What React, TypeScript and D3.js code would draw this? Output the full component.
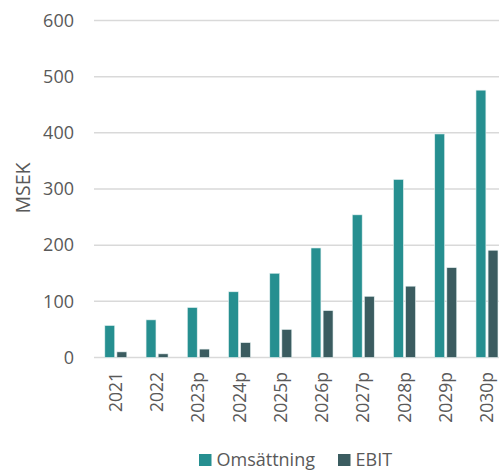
import { useEffect, useRef } from 'react';
import * as d3 from 'd3';

const years = ['2021', '2022', '2023p', '2024p', '2025p', '2026p', '2027p', '2028p', '2029p', '2030p'];
const omsattning = [57, 67, 89, 117, 150, 195, 254, 317, 398, 476];
const ebit = [10, 6.5, 15, 26.5, 50, 83.5, 109, 127, 160, 191];
const seriesNames = ['Omsättning', 'EBIT'];
const yTicks = [0, 100, 200, 300, 400, 500, 600];

const colors = ['#268f90', '#3b5c60'];
const textColor = '#595959';
const font = "'Open Sans', 'DejaVu Sans', sans-serif";

export default function App() {
  const svgRef = useRef<SVGSVGElement>(null);
  const width = 499;
  const height = 470;

  useEffect(() => {
    if (!svgRef.current) return;
    const svg = d3.select(svgRef.current);
    svg.selectAll('*').remove();

    // plot runs past the right edge, like the original
    const x = d3.scaleBand<string>().domain(years).range([95.2, 507.6]).padding(0);
    const y = d3.scaleLinear().domain([0, 600]).range([357.5, 20.5]);
    const inner = d3.scaleBand<string>().domain(seriesNames).range([-11, 11]).paddingInner(0.18);

    // gridlines
    svg.append('g')
      .selectAll('line')
      .data(yTicks)
      .join('line')
      .attr('x1', 94)
      .attr('x2', width)
      .attr('y1', (d) => y(d))
      .attr('y2', (d) => y(d))
      .attr('stroke', '#d9d9d9')
      .attr('stroke-width', 1.5);

    // y tick labels
    svg.append('g')
      .selectAll('text')
      .data(yTicks)
      .join('text')
      .attr('x', 74)
      .attr('y', (d) => y(d))
      .attr('dy', '0.35em')
      .attr('text-anchor', 'end')
      .attr('font-size', 18)
      .attr('font-family', font)
      .attr('fill', textColor)
      .text((d) => d);

    // axis title
    svg.append('text')
      .attr('transform', 'translate(23,188) rotate(-90)')
      .attr('dy', '0.35em')
      .attr('text-anchor', 'middle')
      .attr('font-size', 19.5)
      .attr('font-family', font)
      .attr('fill', textColor)
      .text('MSEK');

    // bars
    const series = [omsattning, ebit];
    series.forEach((vals, si) => {
      svg.append('g')
        .selectAll('rect')
        .data(vals)
        .join('rect')
        .attr('x', (_, i) => (x(years[i]) ?? 0) + x.bandwidth() / 2 + (inner(seriesNames[si]) ?? 0))
        .attr('y', (d) => y(d))
        .attr('width', inner.bandwidth())
        .attr('height', (d) => y(0) - y(d))
        .attr('fill', colors[si])
        .attr('stroke', '#e6f2f2')
        .attr('stroke-width', 0.6);
    });

    // x labels
    svg.append('g')
      .selectAll('text')
      .data(years)
      .join('text')
      .attr('transform', (d) => `translate(${(x(d) ?? 0) + x.bandwidth() / 2},372) rotate(-90)`)
      .attr('dy', '0.35em')
      .attr('text-anchor', 'end')
      .attr('font-size', 17.5)
      .attr('font-family', font)
      .attr('fill', textColor)
      .text((d) => d);

    // legend
    const legendX = [199, 338];
    seriesNames.forEach((name, i) => {
      svg.append('rect')
        .attr('x', legendX[i])
        .attr('y', 454)
        .attr('width', 12.5)
        .attr('height', 12)
        .attr('fill', colors[i]);
      svg.append('text')
        .attr('x', legendX[i] + 17.5)
        .attr('y', 465.5)
        .attr('font-size', 18)
        .attr('font-family', font)
        .attr('fill', textColor)
        .text(name);
    });
  }, []);

  return (
    <svg
      ref={svgRef}
      width={width}
      height={height}
      style={{ position: 'absolute', left: 0, top: 0, background: '#fff' }}
    />
  );
}
